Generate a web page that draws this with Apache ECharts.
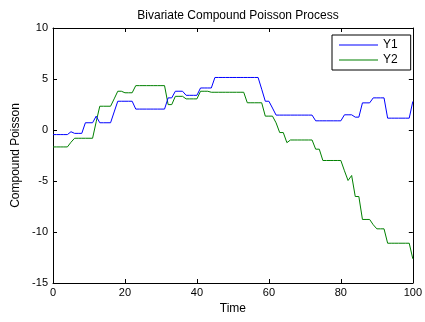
<!DOCTYPE html>
<html>
<head>
<meta charset="utf-8">
<script src="https://cdn.jsdelivr.net/npm/echarts@6/dist/echarts.min.js"></script>
<style>
  html, body { margin: 0; padding: 0; background: #fff; }
  #chart { width: 425px; height: 322px; }
</style>
</head>
<body>
<div id="chart"></div>
<script>
// Simulated sample path of a bivariate compound Poisson process, t = 0..100
const times = [
  0, 1, 2, 3, 4, 5, 6, 7, 8, 9, 10, 11, 12, 13, 14, 15, 16, 17, 18, 19,
  20, 21, 22, 23, 24, 25, 26, 27, 28, 29, 30, 31, 32, 33, 34, 35, 36, 37, 38, 39,
  40, 41, 42, 43, 44, 45, 46, 47, 48, 49, 50, 51, 52, 53, 54, 55, 56, 57, 58, 59,
  60, 61, 62, 63, 64, 65, 66, 67, 68, 69, 70, 71, 72, 73, 74, 75, 76, 77, 78, 79,
  80, 81, 82, 83, 84, 85, 86, 87, 88, 89, 90, 91, 92, 93, 94, 95, 96, 97, 98, 99,
  100
];

const y1 = [
  -0.45, -0.45, -0.45, -0.45, -0.45, -0.17, -0.33, -0.33, -0.33, 0.71,
  0.71, 0.71, 1.36, 0.71, 0.71, 0.71, 0.71, 1.77, 2.82, 2.82,
  2.82, 2.82, 2.82, 2.05, 2.05, 2.05, 2.05, 2.05, 2.05, 2.05,
  2.05, 2.05, 3.15, 3.15, 3.8, 3.8, 3.8, 3.4, 3.4, 3.4,
  3.4, 4.12, 4.12, 4.12, 4.12, 5.15, 5.15, 5.15, 5.15, 5.15,
  5.15, 5.15, 5.15, 5.15, 5.15, 5.15, 5.15, 5.15, 4.0, 2.82,
  2.82, 2.15, 1.46, 1.46, 1.46, 1.46, 1.46, 1.46, 1.46, 1.46,
  1.46, 1.46, 1.46, 0.9, 0.9, 0.9, 0.9, 0.9, 0.9, 0.9,
  0.9, 1.49, 1.49, 1.49, 1.26, 1.26, 2.66, 2.66, 2.66, 3.15,
  3.15, 3.15, 3.15, 1.16, 1.16, 1.16, 1.16, 1.16, 1.16, 1.16,
  2.8
];

const y2 = [
  -1.66, -1.66, -1.66, -1.66, -1.66, -1.2, -0.81, -0.81, -0.81, -0.81,
  -0.81, -0.81, 0.8, 2.33, 2.33, 2.33, 2.33, 3.05, 3.8, 3.8,
  3.65, 3.65, 3.65, 4.35, 4.35, 4.35, 4.35, 4.35, 4.35, 4.35,
  4.35, 4.35, 2.49, 2.49, 3.3, 3.3, 3.3, 3.05, 3.05, 3.05,
  3.05, 3.8, 3.8, 3.8, 3.7, 3.7, 3.7, 3.7, 3.7, 3.7,
  3.7, 3.7, 3.7, 3.7, 2.67, 2.67, 2.67, 2.67, 2.67, 1.36,
  1.36, 1.36, 0.7, -0.25, -0.25, -1.24, -0.98, -0.98, -0.98, -0.98,
  -0.98, -0.98, -0.98, -1.88, -1.88, -2.99, -2.99, -2.99, -2.99, -2.99,
  -2.99, -4.0, -4.95, -4.46, -6.52, -6.52, -8.77, -8.77, -8.77, -9.29,
  -9.69, -9.69, -9.69, -11.1, -11.1, -11.1, -11.1, -11.1, -11.1, -11.1,
  -12.63
];

const seriesNames = ['Y1', 'Y2'];
const seriesColors = ['#0000ff', '#008000'];

const font = 'Liberation Sans, Arial, Helvetica, sans-serif';

const pairs = (vals) => vals.map((v, i) => [times[i], v]);

const boxAxisCommon = {
  axisLine: { show: true, onZero: false, lineStyle: { color: '#000', width: 1 } },
  axisTick: { show: true, inside: true, length: 4, lineStyle: { color: '#000' } },
  splitLine: { show: false }
};

const chart = echarts.init(document.getElementById('chart'), null, { renderer: 'canvas' });

chart.setOption({
  backgroundColor: '#fff',
  animation: false,
  title: {
    text: 'Bivariate Compound Poisson Process',
    left: 233,
    top: 5,
    textAlign: 'center',
    textStyle: { fontFamily: font, fontSize: 12, fontWeight: 'normal', color: '#000' }
  },
  grid: { left: 53, right: 12, top: 28, bottom: 39, containLabel: false },
  legend: {
    data: seriesNames.map((n) => ({ name: n, icon: 'rect' })),
    orient: 'vertical',
    left: 332,
    top: 35,
    itemWidth: 39,
    itemHeight: 1,
    itemGap: 1,
    padding: [3, 13, 3, 7],
    borderColor: '#000',
    borderWidth: 1,
    backgroundColor: '#fff',
    textStyle: { fontFamily: font, fontSize: 12, color: '#000', lineHeight: 14 }
  },
  xAxis: [
    Object.assign({
      type: 'value', min: 0, max: 100, interval: 20, position: 'bottom',
      name: 'Time', nameLocation: 'middle', nameGap: 20,
      nameTextStyle: { fontFamily: font, fontSize: 12, color: '#000' },
      axisLabel: { fontFamily: font, fontSize: 11, color: '#000', margin: 4 }
    }, boxAxisCommon),
    Object.assign({
      type: 'value', min: 0, max: 100, interval: 20, position: 'top',
      axisLabel: { show: false }
    }, boxAxisCommon)
  ],
  yAxis: [
    Object.assign({
      type: 'value', min: -15, max: 10, interval: 5, position: 'left',
      name: 'Compound Poisson', nameLocation: 'middle', nameGap: 29, nameRotate: 90,
      nameTextStyle: { fontFamily: font, fontSize: 12, color: '#000' },
      axisLabel: { fontFamily: font, fontSize: 11, color: '#000', margin: 5 }
    }, boxAxisCommon),
    Object.assign({
      type: 'value', min: -15, max: 10, interval: 5, position: 'right',
      axisLabel: { show: false }
    }, boxAxisCommon)
  ],
  series: [y1, y2].map((vals, k) => ({
    name: seriesNames[k],
    type: 'line',
    data: pairs(vals),
    xAxisIndex: 0,
    yAxisIndex: 0,
    showSymbol: false,
    symbol: 'none',
    lineStyle: { color: seriesColors[k], width: 1 },
    itemStyle: { color: seriesColors[k] },
    emphasis: { disabled: true },
    z: 3 - k
  }))
});
</script>
</body>
</html>
